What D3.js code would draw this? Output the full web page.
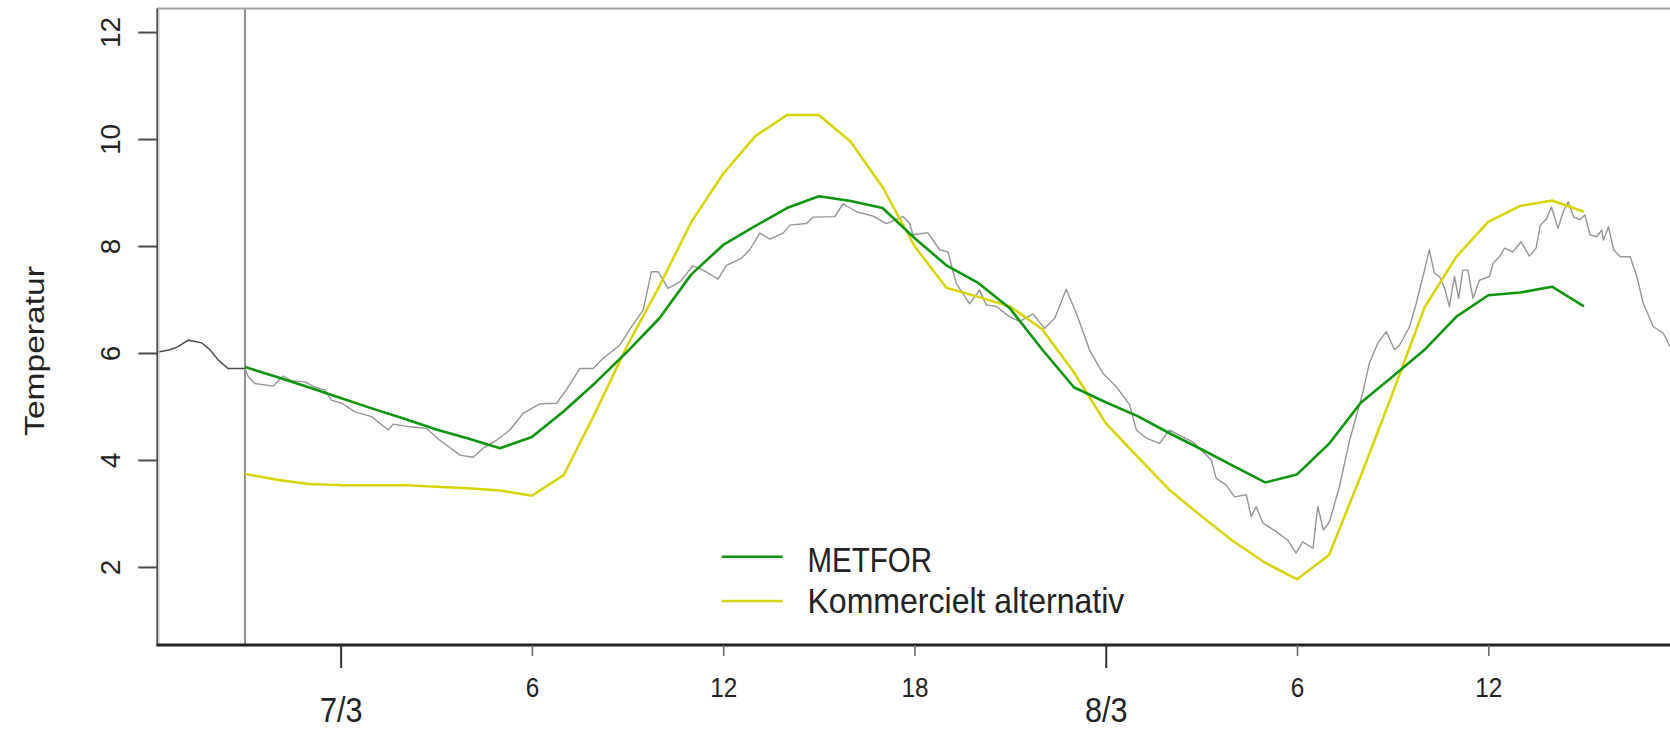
<!DOCTYPE html>
<html>
<head>
<meta charset="utf-8">
<script src="https://cdn.jsdelivr.net/npm/d3@7"></script>
<style>
  html, body { margin: 0; padding: 0; background: #fff; }
  svg { display: block; }
  text { font-family: "Liberation Sans", Arial, Helvetica, sans-serif; fill: #222; }
</style>
</head>
<body>
<svg id="chart" width="1670" height="730"></svg>
<script>
// ---- Data (hours relative to 7/3 00:00) ----
const forecastHours = d3.range(-3, 40);           // -3 .. 39
const metfor = [5.74, 5.55, 5.36, 5.16, 4.96, 4.77, 4.57, 4.40, 4.22, 4.43,
                4.91, 5.45, 6.03, 6.65, 7.47, 8.02, 8.37, 8.71, 8.93, 8.84,
                8.71, 8.15, 7.64, 7.31, 6.83, 6.07, 5.36, 5.08, 4.82, 4.50,
                4.20, 3.89, 3.58, 3.73, 4.30, 5.07, 5.56, 6.06, 6.68, 7.08,
                7.13, 7.24, 6.87];
const kommerciel = [3.74, 3.63, 3.55, 3.53, 3.53, 3.53, 3.50, 3.47, 3.43, 3.33,
                    3.72, 4.90, 6.15, 7.25, 8.45, 9.35, 10.05, 10.45, 10.45, 9.95,
                    9.10, 8.00, 7.22, 7.05, 6.87, 6.45, 5.64, 4.69, 4.06, 3.44,
                    2.95, 2.48, 2.08, 1.77, 2.22, 3.70, 5.25, 6.85, 7.80, 8.45,
                    8.75, 8.85, 8.64];

// observations before forecast start
const obsBeforeTime = [-5.72, -5.36, -5.10, -4.78, -4.36, -4.10, -3.84, -3.53, -3.00];
const obsBeforeTemp = [6.02, 6.06, 6.12, 6.24, 6.19, 6.06, 5.87, 5.71, 5.71];

// observations after forecast start
const obsTime = [-3.00, -2.90, -2.69, -2.12, -1.80, -1.54, -1.12, -0.81, -0.50, -0.29,
  0.03, 0.45, 0.97, 1.49, 1.65, 2.17, 2.69, 3.11, 3.32, 3.74,
  4.16, 4.47, 4.89, 5.31, 5.72, 6.25, 6.77, 7.08, 7.50, 7.92,
  8.23, 8.76, 9.12, 9.49, 9.75, 9.96, 10.27, 10.64, 11.05, 11.37,
  11.84, 12.10, 12.57, 12.83, 13.15, 13.46, 13.88, 14.09, 14.61, 14.82,
  15.50, 15.76, 16.18, 16.70, 17.12, 17.64, 17.85, 17.95, 18.42, 18.79,
  19.05, 19.31, 19.73, 20.04, 20.25, 20.57, 20.98, 21.30, 21.72, 22.08,
  22.40, 22.76, 23.08, 23.49, 23.91, 24.33, 24.75, 24.96, 25.27, 25.69,
  26.00, 26.73, 27.31, 27.46, 27.78, 28.04, 28.41, 28.56, 28.72, 28.93,
  29.35, 29.71, 29.97, 30.18, 30.50, 30.65, 30.83, 31.02, 31.33, 31.65,
  32.06, 32.27, 32.53, 32.80, 33.06, 33.22, 33.53, 33.74, 34.00, 34.15,
  34.31, 34.47, 34.63, 34.78, 34.94, 35.07, 35.20, 35.36, 35.52, 35.72,
  36.04, 36.15, 36.35, 36.51, 36.77, 37.03, 37.29, 37.50, 37.63, 37.82,
  37.98, 38.19, 38.35, 38.51, 38.67, 38.87, 39.03, 39.19, 39.40, 39.56,
  39.61, 39.77, 39.93, 40.14, 40.45, 40.66, 40.86, 41.18, 41.49, 41.70];
const obsTemp = [5.71, 5.56, 5.43, 5.38, 5.57, 5.48, 5.46, 5.36, 5.31, 5.12,
  5.06, 4.90, 4.81, 4.56, 4.67, 4.62, 4.59, 4.37, 4.28, 4.09,
  4.05, 4.22, 4.37, 4.56, 4.87, 5.05, 5.06, 5.31, 5.71, 5.71,
  5.90, 6.15, 6.49, 6.80, 7.52, 7.52, 7.21, 7.33, 7.63, 7.55,
  7.38, 7.64, 7.77, 7.93, 8.24, 8.13, 8.24, 8.39, 8.42, 8.54,
  8.55, 8.79, 8.64, 8.56, 8.42, 8.55, 8.42, 8.21, 8.25, 7.93,
  7.89, 7.30, 6.92, 7.18, 6.90, 6.87, 6.68, 6.59, 6.73, 6.46,
  6.65, 7.19, 6.74, 6.06, 5.62, 5.37, 5.03, 4.56, 4.41, 4.31,
  4.56, 4.34, 4.00, 3.66, 3.53, 3.31, 3.35, 2.94, 3.13, 2.82,
  2.66, 2.50, 2.26, 2.47, 2.35, 3.13, 2.69, 2.85, 3.50, 4.37,
  5.25, 5.81, 6.18, 6.40, 6.06, 6.15, 6.49, 6.93, 7.55, 7.93,
  7.49, 7.43, 7.21, 6.87, 7.43, 7.02, 7.55, 7.55, 7.02, 7.36,
  7.43, 7.68, 7.80, 7.96, 7.89, 8.08, 7.81, 7.96, 8.39, 8.50,
  8.73, 8.33, 8.64, 8.83, 8.55, 8.49, 8.58, 8.21, 8.17, 8.30,
  8.11, 8.36, 7.93, 7.80, 7.80, 7.43, 6.93, 6.49, 6.37, 6.12];

const yTicks = [2, 4, 6, 8, 10, 12];
const hourTicks = [6, 12, 18, 30, 36];
const hourTickLabels = ["6", "12", "18", "6", "12"];
const dayTicks = [0, 24];
const dayTickLabels = ["7/3", "8/3"];
const forecastStart = -3;
const seriesNames = ["METFOR", "Kommercielt alternativ"];
const yTitle = "Temperatur";

// ---- Layout ----
const svg = d3.select("#chart");
const pLeft = 158.3, pRight = 1670, pTop = 8.5, pBottom = 644;

const x = d3.scaleLinear().domain([-5.72, 41.7]).range([pLeft, pRight]);
const y = d3.scaleLinear().domain([0.56, 12.44]).range([pBottom, pTop]);

const GREEN = "#0b960b", YELLOW = "#d8d400";

svg.append("defs").append("clipPath").attr("id", "plotclip")
  .append("rect").attr("x", pLeft).attr("y", pTop).attr("width", pRight - pLeft).attr("height", pBottom - pTop);

const plot = svg.append("g").attr("clip-path", "url(#plotclip)");

// forecast start vertical line
plot.append("line")
  .attr("x1", x(forecastStart)).attr("x2", x(forecastStart))
  .attr("y1", pTop).attr("y2", pBottom)
  .attr("stroke", "#555").attr("stroke-width", 1.3);

const line = d3.line().x(d => x(d[0])).y(d => y(d[1]));

// observations
plot.append("path")
  .datum(obsBeforeTime.map((t, i) => [t, obsBeforeTemp[i]]))
  .attr("d", line).attr("fill", "none").attr("stroke", "#4a4a4a").attr("stroke-width", 1.5);
plot.append("path")
  .datum(obsTime.map((t, i) => [t, obsTemp[i]]))
  .attr("d", line).attr("fill", "none").attr("stroke", "#959595").attr("stroke-width", 1.4)
  .attr("stroke-linejoin", "round");

// forecasts
plot.append("path")
  .datum(forecastHours.map((t, i) => [t, kommerciel[i]]))
  .attr("d", line).attr("fill", "none").attr("stroke", YELLOW).attr("stroke-width", 2.5)
  .attr("stroke-linejoin", "round");
plot.append("path")
  .datum(forecastHours.map((t, i) => [t, metfor[i]]))
  .attr("d", line).attr("fill", "none").attr("stroke", GREEN).attr("stroke-width", 2.6)
  .attr("stroke-linejoin", "round");

// frame
svg.append("line").attr("x1", pLeft - 1).attr("x2", pRight).attr("y1", pTop).attr("y2", pTop)
  .attr("stroke", "#a0a0a0").attr("stroke-width", 2.2);
svg.append("line").attr("x1", pLeft - 1).attr("x2", pLeft - 1).attr("y1", pTop).attr("y2", pBottom)
  .attr("stroke", "#4a4a4a").attr("stroke-width", 1.8);
svg.append("line").attr("x1", pLeft + 0.8).attr("x2", pLeft + 0.8).attr("y1", pTop).attr("y2", pBottom)
  .attr("stroke", "#c4c4c4").attr("stroke-width", 1);
svg.append("line").attr("x1", pLeft - 2).attr("x2", pRight).attr("y1", pBottom + 1).attr("y2", pBottom + 1)
  .attr("stroke", "#222").attr("stroke-width", 2.8);

// y axis ticks & labels
const yAxis = d3.axisLeft(y).tickValues(yTicks).tickSize(19).tickFormat(d3.format("d"));
const gy = svg.append("g").attr("transform", `translate(${pLeft - 1},0)`).call(yAxis);
gy.select(".domain").remove();
gy.selectAll(".tick line").attr("stroke", "#4a4a4a").attr("stroke-width", 2);
gy.selectAll(".tick text")
  .attr("x", null).attr("dy", null)
  .attr("text-anchor", "middle")
  .attr("transform", `translate(${119.5 - (pLeft - 1)},0) rotate(-90)`)
  .style("font-size", "28px")
  .style("font-family", '"Liberation Sans", Arial, sans-serif')
  .attr("fill", "#222");

// x axis: hour ticks
const gxh = svg.append("g").attr("transform", `translate(0,${pBottom + 1})`)
  .call(d3.axisBottom(x).tickValues(hourTicks).tickSize(11).tickFormat((d, i) => hourTickLabels[i]));
gxh.select(".domain").remove();
gxh.selectAll(".tick line").attr("stroke", "#6a6a6a").attr("stroke-width", 1.6);
gxh.selectAll(".tick text").remove();
gxh.selectAll(".tick").append("text")
  .attr("text-anchor", "middle")
  .attr("transform", `translate(0,${696.5 - pBottom - 1}) scale(0.9,1)`)
  .style("font-size", "27px")
  .attr("fill", "#222")
  .text((d, i) => hourTickLabels[i]);

// x axis: day ticks
const gxd = svg.append("g").attr("transform", `translate(0,${pBottom + 1})`)
  .call(d3.axisBottom(x).tickValues(dayTicks).tickSize(23).tickFormat((d, i) => dayTickLabels[i]));
gxd.select(".domain").remove();
gxd.selectAll(".tick line").attr("stroke", "#333").attr("stroke-width", 2);
gxd.selectAll(".tick text").remove();
gxd.selectAll(".tick").append("text")
  .attr("text-anchor", "middle")
  .attr("transform", `translate(0,${722 - pBottom - 1}) scale(0.9,1.05)`)
  .style("font-size", "34px")
  .attr("fill", "#222")
  .text((d, i) => dayTickLabels[i]);

// y title
svg.append("text")
  .attr("transform", `translate(43.5,351) rotate(-90) scale(1.2,1)`)
  .attr("text-anchor", "middle")
  .style("font-size", "28px")
  .attr("fill", "#222")
  .text(yTitle);

// legend
const legend = svg.append("g");
const legendItems = [
  { name: seriesNames[0], color: GREEN, ly: 556.7, base: 571.7, sx: 0.82 },
  { name: seriesNames[1], color: YELLOW, ly: 601, base: 613.3, sx: 0.89 }
];
legendItems.forEach(it => {
  legend.append("line").attr("x1", 721.7).attr("x2", 782.7).attr("y1", it.ly).attr("y2", it.ly)
    .attr("stroke", it.color).attr("stroke-width", 2.6);
  legend.append("text")
    .attr("transform", `translate(807.5,${it.base}) scale(${it.sx},1)`)
    .style("font-size", "36px")
    .attr("fill", "#111")
    .text(it.name);
});
</script>
</body>
</html>
